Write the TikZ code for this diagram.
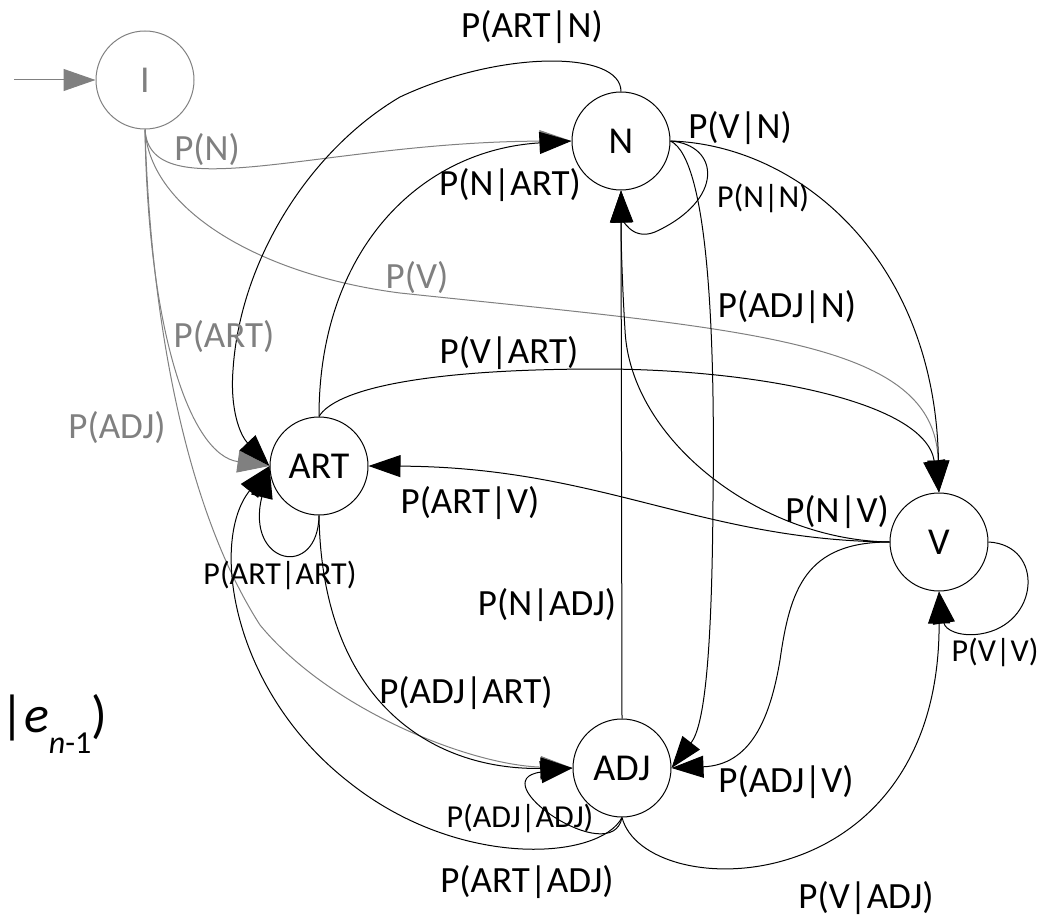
\documentclass[tikz,border=0pt]{standalone}
\usepackage{fontspec}
\setmainfont{Carlito}
\usepackage{tikz}
\usetikzlibrary{arrows.meta}
\tikzset{
    %Define standard arrow tip
    >={Triangle[length=32pt,width=22pt]},
    %Define style for states
    state/.style={
           circle, draw, line width=1pt,
           minimum size=98pt, inner sep=0pt,
           font=\fontsize{38}{42}\selectfont},
    % Define arrow style
    pil/.style={
           ->,
           line width=1pt},
    % Define label style
    prob/.style={
           inner sep=0pt,
           font=\fontsize{37}{42}\selectfont}
}

\begin{document}
\begin{tikzpicture}[x=1pt,y=-1pt]
	% Styles
	\tikzstyle{loopprob} = [prob, font=\fontsize{32}{36}\selectfont]
	\tikzstyle{initpil} = [pil, gray]

	\useasboundingbox (0,0) rectangle (1042,920);

	% States
	\node[state, draw=gray, text=gray] (I) at (145,80) {I};
	\node[state] (N) at (621,141) {N};
	\node[state] (ART) at (319,466) {ART};
	\node[state] (V) at (939,542) {V};
	\node[state] (ADJ) at (622,768) {ADJ};
	\coordinate (in) at (14,80);

	% Start probabilities
	\draw[initpil] (in) -- (I.west);
	\draw[initpil] (I.south) .. controls (150,210) and (320,142) .. (N.west);
	\draw[initpil] (I.south) .. controls (150,210) and (260,275) .. (400,293)
	                         .. controls (750,330) and (935,340) .. (V.north);
	\draw[initpil] (I.south) .. controls (148,330) and (190,455) .. (ART.west);
	\draw[initpil] (I.south) .. controls (150,300) and (180,500) .. (260,625)
	                         .. controls (330,710) and (470,765) .. (ADJ.west);

	% Transitions from N
	\draw[pil] (N.north) .. controls (621,50) and (500,50) .. (400,97)
	                     .. controls (310,150) and (240,260) .. (233,370)
	                     .. controls (230,410) and (240,435) .. (ART.west);
	\draw[pil] (N.east) .. controls (800,145) and (935,260) .. (V.north);
	\draw[pil] (N.east) .. controls (720,145) and (725,200) .. (655,232)
	                    .. controls (630,242) and (622,215) .. (N.south);
	\draw[pil] (N.east) .. controls (710,160) and (715,350) .. (713,500)
	                    .. controls (712,650) and (705,725) .. (ADJ.east);

	% Transitions from ART
	\draw[pil] (ART.north) .. controls (319,250) and (420,150) .. (N.west);
	\draw[pil] (ART.north) .. controls (335,390) and (420,369) .. (600,369)
	                       .. controls (750,369) and (925,400) .. (V.north);
	\draw[pil] (ART.south) .. controls (318,580) and (245,565) .. (ART.west);
	\draw[pil] (ART.south) .. controls (322,700) and (430,770) .. (ADJ.west);

	% Transitions from V
	\draw[pil] (V.west) .. controls (700,540) and (600,467) .. (ART.east);
	\draw[pil] (V.west) .. controls (760,540) and (630,440) .. (625,330)
	                    .. controls (622,280) and (621,240) .. (N.south);
	\draw[pil] (V.east) .. controls (1045,545) and (1040,625) .. (980,634)
	                    .. controls (960,637) and (945,630) .. (V.south);
	\draw[pil] (V.west) .. controls (805,542) and (790,590) .. (780,660)
	                    .. controls (770,720) and (750,765) .. (ADJ.east);

	% Transitions from ADJ
	\draw[pil] (ADJ.north) -- (N.south);
	\draw[pil] (ADJ.south) .. controls (645,905) and (940,905) .. (V.south);
	\draw[pil] (ADJ.south) .. controls (600,860) and (460,870) .. (350,783)
	                       .. controls (230,690) and (210,540) .. (ART.west);
	\draw[pil] (ADJ.south) .. controls (612,870) and (480,780) .. (ADJ.west);

	% Labels
	\node[prob, gray] (lN) at (207,150) {P(N)};
	\node[prob, gray] (lV) at (417,278) {P(V)};
	\node[prob, gray] (lART) at (224,337) {P(ART)};
	\node[prob, gray] (lADJ) at (117,428) {P(ADJ)};
	\node[prob] (lARTN) at (532,27) {P(ART|N)};
	\node[prob] (lVN) at (740,128) {P(V|N)};
	\node[prob] (lNART) at (510,185) {P(N|ART)};
	\node[loopprob] (lNN) at (763,198) {P(N|N)};
	\node[prob] (lADJN) at (787,307) {P(ADJ|N)};
	\node[prob] (lVART) at (509,353) {P(V|ART)};
	\node[prob] (lARTV) at (470,503) {P(ART|V)};
	\node[prob] (lNV) at (837,512) {P(N|V)};
	\node[loopprob] (lARTART) at (280,575) {P(ART|ART)};
	\node[prob] (lNADJ) at (547,605) {P(N|ADJ)};
	\node[loopprob] (lVV) at (995,652) {P(V|V)};
	\node[prob] (lADJART) at (466,693) {P(ADJ|ART)};
	\node[prob] (lADJV) at (786,782) {P(ADJ|V)};
	\node[loopprob] (lADJADJ) at (520,818) {P(ADJ|ADJ)};
	\node[prob] (lARTADJ) at (527,882) {P(ART|ADJ)};
	\node[prob] (lVADJ) at (866,898) {P(V|ADJ)};

	% Conditional on the left
	\node[inner sep=0pt, anchor=base west, font=\fontsize{52}{60}\selectfont] (cond) at (0,732)
	    {|\textit{e}\raisebox{-21pt}{\fontsize{32}{36}\selectfont\textit{n}-1})};
\end{tikzpicture}
\end{document}
